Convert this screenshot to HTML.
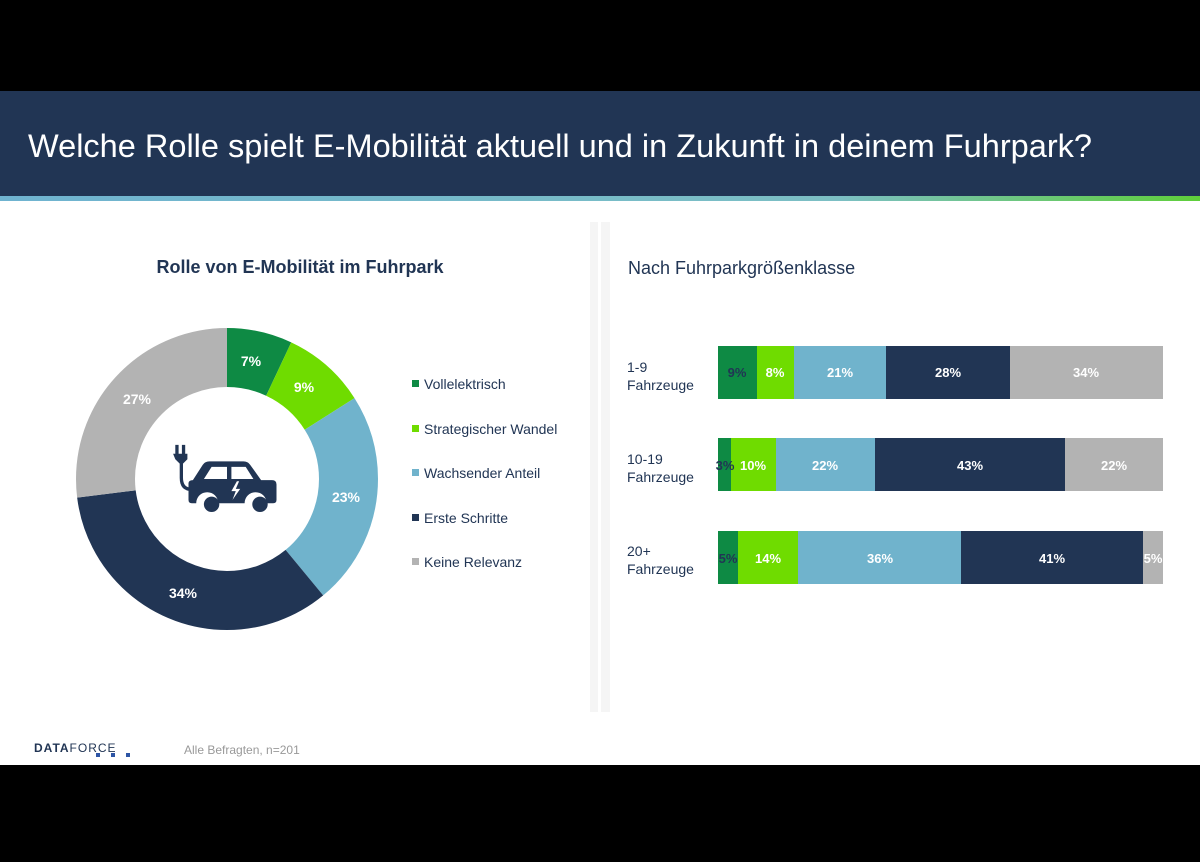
<!DOCTYPE html>
<html><head><meta charset="utf-8"><style>
body{margin:0;background:#000;width:1200px;height:857px;overflow:hidden;font-family:"Liberation Sans",Arial,sans-serif}
</style></head><body>
<svg width="1200" height="857" xmlns="http://www.w3.org/2000/svg" font-family="Liberation Sans, Arial, sans-serif">
<defs><linearGradient id="g" x1="0" x2="1"><stop offset="0" stop-color="#6fb3d0"/><stop offset="0.7" stop-color="#7cbfc4"/><stop offset="1" stop-color="#5fcf3a"/></linearGradient></defs>
<rect x="0" y="0" width="1200" height="857" fill="#000"/>
<rect x="0" y="91" width="1200" height="674" fill="#fff"/>
<rect x="0" y="91" width="1200" height="105" fill="#213554"/>
<rect x="0" y="196" width="1200" height="5" fill="url(#g)"/>
<text x="28" y="157" font-size="32" fill="#fff" textLength="1064" lengthAdjust="spacingAndGlyphs">Welche Rolle spielt E-Mobilität aktuell und in Zukunft in deinem Fuhrpark?</text>
<rect x="590" y="222" width="8" height="490" fill="#f5f5f5"/>
<rect x="601" y="222" width="9" height="490" fill="#f5f5f5"/>
<text x="300" y="273" font-size="18" font-weight="bold" fill="#213554" text-anchor="middle">Rolle von E-Mobilität im Fuhrpark</text>
<text x="628" y="274" font-size="18" fill="#213554">Nach Fuhrparkgrößenklasse</text>
<g transform="rotate(-90 227 479)" fill="none" stroke-width="59">
<circle cx="227" cy="479" r="121.5" stroke="#0e8a44" stroke-dasharray="53.4 800" stroke-dashoffset="0"/>
<circle cx="227" cy="479" r="121.5" stroke="#6fdc00" stroke-dasharray="68.7 800" stroke-dashoffset="-53.4"/>
<circle cx="227" cy="479" r="121.5" stroke="#70b3cc" stroke-dasharray="175.6 800" stroke-dashoffset="-122.1"/>
<circle cx="227" cy="479" r="121.5" stroke="#213554" stroke-dasharray="259.6 800" stroke-dashoffset="-297.7"/>
<circle cx="227" cy="479" r="121.5" stroke="#b3b3b3" stroke-dasharray="206.1 800" stroke-dashoffset="-557.3"/>
</g>
<g font-size="14" font-weight="bold" fill="#fff" text-anchor="middle">
<text x="251" y="366">7%</text><text x="304" y="392">9%</text><text x="346" y="502">23%</text><text x="183" y="598">34%</text><text x="137" y="404">27%</text>
</g>
<g fill="#213554" transform="translate(227 479) scale(1.1) translate(-227 -479)">
<path d="M180 448h3v8h-3zM186 448h3v8h-3zM178 456h13v5l-4 4v13q0 9 8 9h6v3h-6q-11 0-11-12v-13l-4-4z"/>
<path d="M196 480l9-14q2-3 6-3h31q4 0 6 3l10 14h10q4 0 4 4v14q0 3-3 3h-6a10 10 0 0 0-20 0h-24a10 10 0 0 0-20 0h-4q-3 0-3-3v-15q0-3 4-3z"/>
<circle cx="213" cy="502" r="7"/><circle cx="257" cy="502" r="7"/>
<path d="M206 479l7-11h14v11zM231 468h13l7 11h-20z" fill="#fff"/>
<path d="M236 481l-5 9h4l-3 8 7-10h-4l3-7z" fill="#fff"/>
</g>
<g font-size="14" fill="#213554">
<rect x="412" y="380" width="7" height="7" fill="#0e8a44"/><text x="424" y="389">Vollelektrisch</text>
<rect x="412" y="425" width="7" height="7" fill="#6fdc00"/><text x="424" y="434">Strategischer Wandel</text>
<rect x="412" y="469" width="7" height="7" fill="#70b3cc"/><text x="424" y="478">Wachsender Anteil</text>
<rect x="412" y="514" width="7" height="7" fill="#213554"/><text x="424" y="523">Erste Schritte</text>
<rect x="412" y="558" width="7" height="7" fill="#b3b3b3"/><text x="424" y="567">Keine Relevanz</text>
</g>
<g font-size="14" fill="#213554">
<text x="627" y="372">1-9</text><text x="627" y="390">Fahrzeuge</text>
<text x="627" y="464">10-19</text><text x="627" y="482">Fahrzeuge</text>
<text x="627" y="556">20+</text><text x="627" y="574">Fahrzeuge</text>
</g>
<g>
<rect x="718" y="346" width="39" height="53" fill="#0e8a44"/><rect x="757" y="346" width="37" height="53" fill="#6fdc00"/><rect x="794" y="346" width="92" height="53" fill="#70b3cc"/><rect x="886" y="346" width="124" height="53" fill="#213554"/><rect x="1010" y="346" width="153" height="53" fill="#b3b3b3"/>
<rect x="718" y="438" width="13" height="53" fill="#0e8a44"/><rect x="731" y="438" width="45" height="53" fill="#6fdc00"/><rect x="776" y="438" width="99" height="53" fill="#70b3cc"/><rect x="875" y="438" width="190" height="53" fill="#213554"/><rect x="1065" y="438" width="98" height="53" fill="#b3b3b3"/>
<rect x="718" y="531" width="20" height="53" fill="#0e8a44"/><rect x="738" y="531" width="60" height="53" fill="#6fdc00"/><rect x="798" y="531" width="163" height="53" fill="#70b3cc"/><rect x="961" y="531" width="182" height="53" fill="#213554"/><rect x="1143" y="531" width="20" height="53" fill="#b3b3b3"/>
</g>
<g font-size="13" font-weight="bold" fill="#fff" text-anchor="middle">
<text x="737" y="377" fill="#213554">9%</text><text x="775" y="377">8%</text><text x="840" y="377">21%</text><text x="948" y="377">28%</text><text x="1086" y="377">34%</text>
<text x="725" y="470" fill="#213554">3%</text><text x="753" y="470">10%</text><text x="825" y="470">22%</text><text x="970" y="470">43%</text><text x="1114" y="470">22%</text>
<text x="728" y="563" fill="#213554">5%</text><text x="768" y="563">14%</text><text x="880" y="563">36%</text><text x="1052" y="563">41%</text><text x="1153" y="563">5%</text>
</g>
<text x="34" y="752" font-size="12" font-weight="bold" fill="#213554" letter-spacing="1">DATA<tspan font-weight="normal">FORCE</tspan></text>
<rect x="96" y="753" width="4" height="4" fill="#2d55a5"/><rect x="111" y="753" width="4" height="4" fill="#2d55a5"/><rect x="126" y="753" width="4" height="4" fill="#2d55a5"/>
<text x="184" y="754" font-size="12" fill="#999">Alle Befragten, n=201</text>
</svg>
</body></html>
